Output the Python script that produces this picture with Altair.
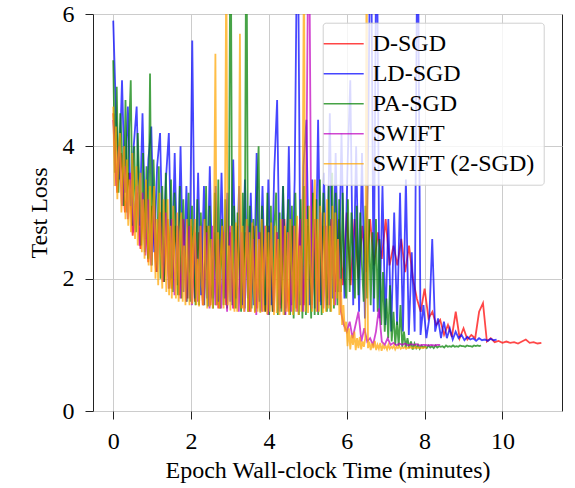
import altair as alt
import numpy as np
import pandas as pd

series_names = ["D-SGD", "LD-SGD", "PA-SGD", "SWIFT", "SWIFT (2-SGD)"]
series_colors = ["#ff0000", "#0000ff", "#008000", "#bf00bf", "#ffa500"]
end_minutes = [11.0, 9.85, 9.45, 8.4, 8.05]
x_ticks = [0, 2, 4, 6, 8, 10]
y_ticks = [0, 2, 4, 6]

d_sgd = [4.5, 3.3, 3.9, 3.0, 3.6, 2.65, 3.3, 2.45, 3.2, 2.25,
         3.1, 2.1, 3.0, 1.95, 2.9, 1.85, 2.8, 1.75, 2.9, 1.7,
         2.8, 1.65, 2.7, 1.6, 2.8, 1.6, 2.7, 1.55, 2.8, 1.6,
         2.7, 1.55, 2.8, 1.55, 2.7, 1.5, 2.8, 1.55, 2.7, 1.5,
         2.8, 1.5, 2.7, 1.55, 2.9, 1.5, 2.8, 1.55, 2.9, 1.6,
         2.8, 1.6, 2.9, 1.65, 2.8, 1.7, 2.9, 1.8, 2.9, 1.9,
         3.0, 1.9, 2.9, 2.0, 2.8, 2.1, 2.9, 2.2, 2.7, 2.3,
         2.9, 2.2, 2.5, 2.2, 2.6, 2.1, 2.5, 2.0, 1.7, 1.5,
         1.85, 1.4, 1.5, 1.3, 1.38, 1.15, 1.3, 1.12, 1.5, 1.1,
         1.25, 1.08, 1.15, 1.1, 1.5, 1.63, 1.05, 1.1, 1.04, 1.06,
         1.03, 1.05, 1.03, 1.04, 1.02, 1.05, 1.08, 1.03, 1.04, 1.02,
         1.03]

ld_sgd = [5.9, 4.4, 3.5, 5.0, 3.3, 4.6, 3.1, 4.0, 4.6, 2.8,
          4.5, 2.6, 3.8, 4.3, 2.4, 3.7, 4.2, 2.2, 3.5, 4.2,
          2.0, 3.9, 1.9, 4.0, 1.8, 3.4, 1.7, 5.6, 1.7, 3.6,
          1.75, 3.4, 1.7, 3.7, 1.7, 3.4, 1.65, 3.6, 1.7, 3.3,
          1.65, 3.8, 1.7, 3.4, 1.6, 3.5, 1.7, 3.3, 1.6, 3.9,
          1.65, 3.4, 1.6, 3.5, 1.6, 3.6, 4.7, 1.6, 3.4, 1.55,
          4.0, 1.6, 3.5, 8.0, 1.6, 3.7, 4.4, 1.6, 3.5, 1.55,
          4.4, 1.6, 3.6, 1.6, 4.5, 1.7, 3.9, 1.8, 4.2, 1.7,
          3.6, 5.0, 1.6, 4.0, 1.5, 3.9, 1.4, 3.6, 8.0, 1.5,
          8.0, 1.4, 3.4, 1.3, 2.9, 1.2, 3.0, 1.3, 3.3, 1.2,
          3.5, 1.15, 2.4, 1.2, 8.0, 1.15, 1.6, 1.1, 1.4, 2.6,
          1.2, 1.4, 1.1, 1.35, 1.1, 1.25, 1.08, 1.2, 1.1, 1.15,
          1.07, 1.12, 1.08, 1.1, 1.06, 1.1, 1.07, 1.08, 1.06, 1.09,
          1.07, 1.08]

pa_sgd = [5.3, 3.6, 4.9, 3.3, 4.5, 3.9, 3.1, 4.7, 3.0, 4.2,
          5.0, 2.8, 4.0, 2.7, 4.2, 3.3, 2.5, 3.9, 2.4, 3.7,
          2.3, 5.1, 2.2, 3.8, 2.9, 2.1, 3.7, 2.0, 3.4, 1.95,
          3.6, 2.6, 1.85, 3.5, 1.8, 3.3, 2.4, 1.75, 3.4, 1.7,
          3.2, 2.2, 1.65, 3.3, 1.65, 3.1, 2.5, 1.6, 3.2, 1.6,
          3.0, 2.0, 1.6, 3.4, 1.58, 3.1, 2.3, 1.55, 3.3, 1.6,
          3.5, 1.55, 2.9, 1.6, 3.2, 1.55, 2.6, 8.0, 1.6, 3.1,
          1.55, 3.0, 2.1, 1.5, 3.3, 1.55, 8.0, 1.5, 3.1, 1.55,
          2.9, 1.5, 3.2, 4.0, 1.5, 3.1, 2.2, 1.5, 3.3, 1.45,
          3.1, 1.5, 2.8, 3.3, 1.45, 3.0, 1.5, 3.4, 1.45, 2.5,
          3.2, 1.45, 3.1, 1.4, 3.3, 2.0, 1.45, 3.2, 1.4, 3.4,
          1.45, 3.1, 2.4, 1.4, 3.3, 1.45, 3.2, 1.45, 3.5, 1.45,
          3.3, 2.2, 1.5, 3.4, 1.5, 3.6, 1.55, 3.3, 1.6, 3.2,
          1.8, 3.3, 2.0, 1.7, 3.2, 1.8, 3.0, 2.3, 1.7, 3.1,
          1.75, 3.0, 2.2, 1.65, 3.1, 1.7, 2.9, 1.6, 2.7, 1.7,
          2.9, 1.5, 2.6, 1.3, 2.1, 1.2, 1.7, 1.1, 1.9, 1.05,
          1.5, 1.0, 1.35, 0.98, 1.6, 0.97, 1.2, 0.96, 1.1, 0.95,
          1.05, 0.93, 1.02, 0.95, 1.0, 0.94, 0.99, 0.96, 0.98, 0.95,
          0.99, 0.96, 0.98, 0.95, 0.99, 0.96, 0.98, 0.97, 0.98, 0.96,
          0.99, 0.97, 0.98, 0.97, 0.99, 0.97, 0.98, 0.97, 0.99, 0.98,
          0.98, 0.97, 0.99, 0.98, 0.98, 0.97, 0.99, 0.98, 0.99, 0.98,
          0.99]

swift = [4.4, 3.4, 4.0, 3.1, 3.7, 2.9, 3.6, 2.7, 3.4, 2.5,
         3.3, 2.35, 3.2, 2.2, 3.1, 2.1, 3.0, 1.95, 3.0, 1.85,
         2.9, 1.75, 2.8, 1.7, 2.9, 1.65, 2.8, 1.6, 2.7, 1.65,
         2.8, 1.6, 2.7, 1.55, 2.8, 1.6, 2.6, 1.55, 2.7, 1.5,
         2.8, 1.55, 2.6, 1.5, 2.7, 1.5, 2.8, 1.5, 2.6, 1.45,
         2.7, 1.5, 2.8, 1.45, 2.6, 1.5, 2.7, 1.5, 2.9, 1.45,
         2.7, 1.5, 2.8, 1.5, 2.9, 1.5, 2.8, 8.0, 1.55, 2.9,
         1.5, 3.0, 1.55, 2.8, 1.6, 2.9, 1.6, 2.6, 1.5, 1.3,
         1.2, 1.35, 1.1, 1.3, 1.5, 1.05, 1.25, 1.05, 1.1, 1.0,
         1.2, 1.55, 1.05, 1.0, 1.1, 1.0, 1.03, 0.99, 1.02, 1.0,
         1.02, 0.99, 1.01, 1.0, 1.01, 0.99, 1.0, 1.0, 0.99, 1.0,
         0.99, 1.0, 1.0]

swift_2sgd = [4.6, 3.4, 4.3, 3.2, 3.9, 4.2, 3.0, 3.6, 4.0, 2.9,
              3.8, 2.8, 3.5, 2.7, 3.9, 3.1, 2.6, 3.7, 2.5, 3.4,
              3.6, 2.4, 3.2, 2.3, 3.5, 2.7, 2.2, 3.4, 2.1, 3.0,
              3.4, 2.0, 2.9, 1.9, 3.3, 2.4, 1.85, 3.2, 2.6, 1.8,
              3.2, 1.75, 2.8, 1.7, 3.1, 2.2, 1.7, 3.0, 1.65, 2.7,
              3.0, 1.65, 2.5, 1.6, 2.9, 2.1, 1.6, 2.9, 1.62, 2.6,
              2.9, 1.6, 2.3, 1.58, 2.8, 1.9, 1.6, 2.9, 2.2, 1.55,
              2.8, 1.58, 2.6, 1.55, 2.9, 5.4, 1.6, 2.7, 1.55, 2.4,
              2.8, 1.55, 2.9, 7.0, 1.6, 2.5, 1.52, 2.8, 2.0, 1.5,
              2.85, 1.5, 2.6, 5.7, 1.55, 2.8, 1.5, 2.3, 2.9, 1.5,
              2.7, 1.5, 2.85, 1.95, 1.48, 2.8, 1.5, 2.6, 1.48, 2.9,
              1.5, 2.4, 2.8, 1.46, 2.7, 1.5, 2.85, 2.1, 1.45, 2.8,
              1.48, 2.6, 1.45, 2.9, 1.9, 1.45, 2.8, 1.5, 2.7, 1.45,
              2.9, 2.2, 1.45, 2.8, 1.5, 2.95, 1.45, 2.5, 1.5, 3.0,
              7.0, 1.5, 2.9, 1.48, 3.1, 2.0, 1.5, 3.0, 3.5, 1.5,
              2.9, 1.5, 3.1, 2.4, 1.48, 3.0, 1.5, 3.2, 1.55, 2.8,
              1.5, 3.1, 1.6, 3.0, 1.7, 2.6, 1.45, 2.0, 1.3, 1.6,
              1.2, 1.35, 0.98, 1.25, 0.93, 1.15, 1.0, 1.2, 0.92, 1.1,
              0.95, 1.12, 0.93, 1.05, 0.97, 1.1, 7.0, 0.95, 1.05, 0.92,
              1.02, 0.95, 1.06, 0.92, 1.0, 0.94, 1.03, 0.91, 0.99, 0.95,
              0.98, 0.93, 1.0, 0.94, 0.97, 0.95, 0.99, 0.93, 0.97, 0.95,
              0.98, 0.94, 0.96, 0.95, 0.97, 0.94, 0.96, 0.95, 0.97, 0.95,
              0.96, 0.95, 0.97, 0.95, 0.96, 0.95, 0.96, 0.95, 0.96, 0.96,
              0.96]

all_losses = [d_sgd, ld_sgd, pa_sgd, swift, swift_2sgd]

FONT = "Liberation Serif"
color_scale = alt.Scale(domain=series_names, range=series_colors)
x_scale = alt.Scale(domain=[-0.52, 11.53], nice=False, zero=False)
y_scale = alt.Scale(domain=[0, 6], nice=False)

x_axis = alt.Axis(values=x_ticks, format="d", grid=True, gridColor="#cccccc",
                  domain=False, tickColor="#222222", tickSize=8,
                  labelFont=FONT, labelFontSize=24, labelColor="black",
                  labelBaseline="alphabetic", labelPadding=29, labelFlush=False,
                  labelOverlap=False,
                  title="Epoch Wall-clock Time (minutes)", titleFont=FONT,
                  titleFontSize=24, titleFontWeight="normal", titleColor="black",
                  titleY=66.5, titleBaseline="alphabetic")
y_axis = alt.Axis(values=y_ticks, format="d", grid=True, gridColor="#cccccc",
                  domain=False, tickColor="#222222", tickSize=8,
                  labelFont=FONT, labelFontSize=24, labelColor="black",
                  labelPadding=11, labelFlush=False, labelOverlap=False,
                  title="Test Loss", titleFont=FONT, titleFontSize=24,
                  titleFontWeight="normal", titleColor="black",
                  titleX=-53.6, titleY=198.5, titleAngle=270,
                  titleAlign="center", titleBaseline="middle")
legend = alt.Legend(title=None, orient="none", legendX=229.7, legendY=8.7,
                    padding=9, fillColor="rgba(255,255,255,0.8)",
                    strokeColor="#d0d0d0", cornerRadius=3,
                    labelFont=FONT, labelFontSize=24, labelColor="black",
                    labelLimit=400,
                    symbolType="M-2,0H2", symbolSize=400, symbolStrokeWidth=1.5,
                    labelOffset=17, rowPadding=6)

layers = []
for name, end, loss in zip(series_names, end_minutes, all_losses):
    df = pd.DataFrame({"t": np.linspace(0, end, len(loss)), "loss": loss, "series": name})
    layers.append(
        alt.Chart(df).mark_line(clip=True, strokeWidth=1.8, opacity=0.72).encode(
            x=alt.X("t:Q", scale=x_scale, axis=x_axis),
            y=alt.Y("loss:Q", scale=y_scale, axis=y_axis),
            color=alt.Color("series:N", scale=color_scale, legend=legend),
        )
    )

chart = alt.layer(*layers).properties(
    width=469, height=397,
    autosize=alt.AutoSizeParams(type="none"),
    padding={"left": 93, "top": 14, "right": 13, "bottom": 77},
).configure_view(stroke="#222222", strokeWidth=1)

chart.save("out.html", embed_options={"renderer": "svg", "actions": False})
